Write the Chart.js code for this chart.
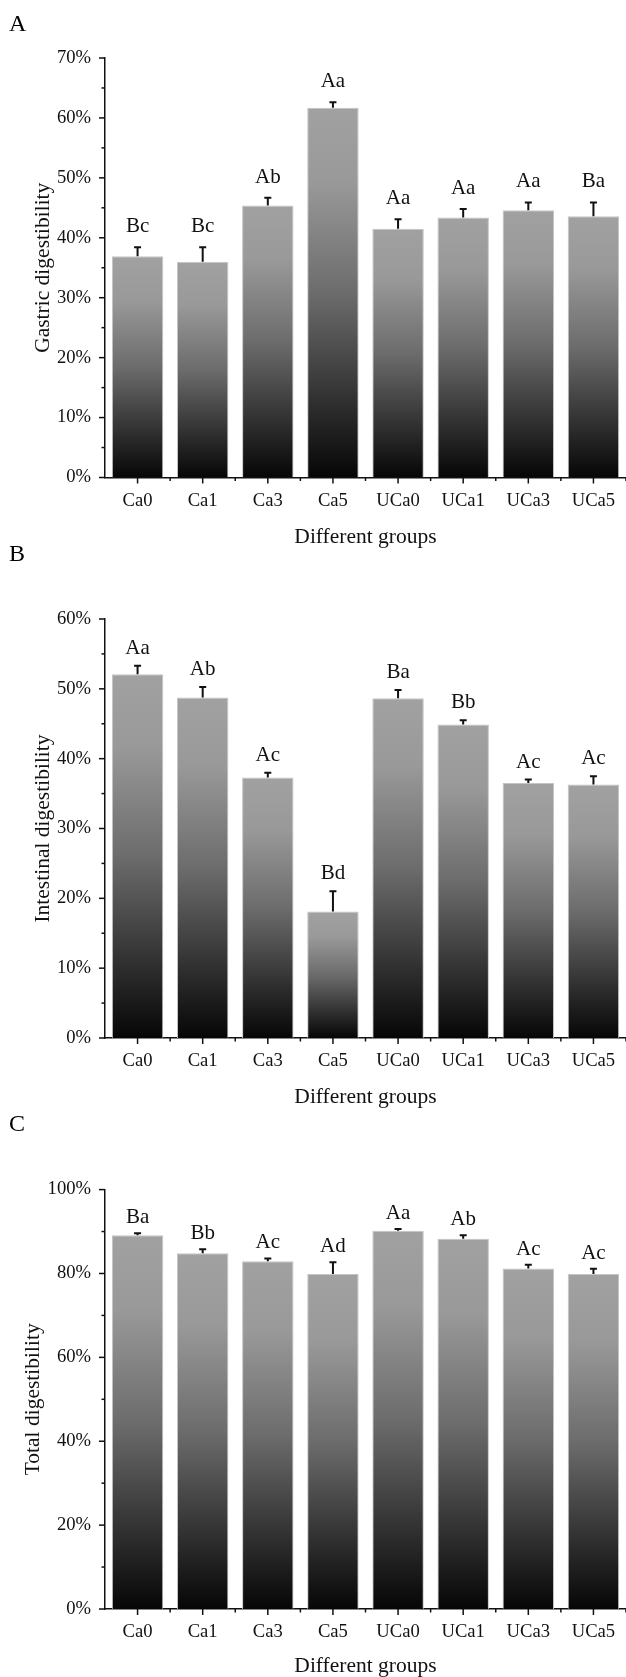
<!DOCTYPE html>
<html>
<head>
<meta charset="utf-8">
<script src="https://cdn.jsdelivr.net/npm/chart.js@4"></script>
<style>
  html, body { margin: 0; padding: 0; background: #fff; overflow: hidden; }
  body { width: 626px; height: 1677px; position: relative; }
  canvas { position: absolute; left: 0; }
</style>
</head>
<body>
<canvas id="cA"></canvas>
<canvas id="cB"></canvas>
<canvas id="cC"></canvas>
<script>
// ---- data ----
const groups = ['Ca0', 'Ca1', 'Ca3', 'Ca5', 'UCa0', 'UCa1', 'UCa3', 'UCa5'];

const gastricValues = [36.9, 36.0, 45.4, 61.7, 41.5, 43.4, 44.6, 43.6];
const gastricErrors = [1.5, 2.4, 1.3, 0.9, 1.6, 1.4, 1.3, 2.3];
const gastricLetters = ['Bc', 'Bc', 'Ab', 'Aa', 'Aa', 'Aa', 'Aa', 'Ba'];

const intestinalValues = [52.1, 48.75, 37.3, 18.1, 48.65, 44.9, 36.5, 36.3];
const intestinalErrors = [1.2, 1.5, 0.7, 2.9, 1.2, 0.6, 0.5, 1.2];
const intestinalLetters = ['Aa', 'Ab', 'Ac', 'Bd', 'Ba', 'Bb', 'Ac', 'Ac'];

const totalValues = [89.1, 84.8, 82.9, 79.9, 90.2, 88.3, 81.2, 79.9];
const totalErrors = [0.5, 1.0, 0.7, 2.8, 0.4, 0.8, 0.9, 1.2];
const totalLetters = ['Ba', 'Bb', 'Ac', 'Ad', 'Aa', 'Ab', 'Ac', 'Ac'];

const FONT = "'Liberation Serif', 'Times New Roman', serif";

function barGradient(ctx) {
  const chart = ctx.chart;
  const y = chart.scales && chart.scales.y;
  if (!chart.chartArea || !y || ctx.raw == null) return '#888';
  const top = y.getPixelForValue(ctx.raw);
  const bot = y.getPixelForValue(0);
  if (!isFinite(top) || !isFinite(bot) || bot - top < 1) return '#888';
  const g = chart.ctx.createLinearGradient(0, top, 0, bot);
  g.addColorStop(0, '#a1a1a1');
  g.addColorStop(0.2, '#999999');
  g.addColorStop(0.5, '#6c6c6c');
  g.addColorStop(0.75, '#393939');
  g.addColorStop(1, '#060606');
  return g;
}

const extrasPlugin = {
  id: 'extras',
  afterDatasetsDraw(chart) {
    const cfg = chart.options.plugins.extras;
    const c = chart.ctx;
    const y = chart.scales.y, x = chart.scales.x;
    const meta = chart.getDatasetMeta(0);
    const vals = chart.data.datasets[0].data;
    c.save();
    // error bars
    c.strokeStyle = '#111';
    c.lineWidth = 2;
    meta.data.forEach((bar, i) => {
      const yv = y.getPixelForValue(vals[i]);
      const ye = y.getPixelForValue(vals[i] + cfg.errors[i]);
      c.beginPath();
      c.moveTo(bar.x, yv);
      c.lineTo(bar.x, ye);
      c.moveTo(bar.x - 3.5, ye);
      c.lineTo(bar.x + 3.5, ye);
      c.stroke();
    });
    // letters
    c.fillStyle = '#111';
    c.font = '21px ' + FONT;
    c.textAlign = 'center';
    c.textBaseline = 'alphabetic';
    meta.data.forEach((bar, i) => {
      const ye = y.getPixelForValue(vals[i] + cfg.errors[i]);
      c.fillText(cfg.letters[i], bar.x, ye - cfg.letterGap);
    });
    // y ticks (major + minor)
    c.lineWidth = 1.5;
    const left = chart.chartArea.left;
    const tks = y.ticks.map(t => t.value);
    tks.forEach((v, k) => {
      const p = y.getPixelForValue(v);
      c.beginPath(); c.moveTo(left - 6, p); c.lineTo(left, p); c.stroke();
      if (k < tks.length - 1) {
        const pm = y.getPixelForValue((v + tks[k + 1]) / 2);
        c.beginPath(); c.moveTo(left - 3.5, pm); c.lineTo(left, pm); c.stroke();
      }
    });
    // x ticks: centers (major) and boundaries (minor)
    const bottom = chart.chartArea.bottom;
    const n = groups.length;
    for (let i = 0; i < n; i++) {
      const p = x.getPixelForValue(i);
      c.beginPath(); c.moveTo(p, bottom); c.lineTo(p, bottom + 6); c.stroke();
    }
    for (let i = 1; i <= n; i++) {
      let p;
      if (i === n) p = x.getPixelForValue(n - 1) + (x.getPixelForValue(n - 1) - x.getPixelForValue(n - 2)) / 2;
      else p = (x.getPixelForValue(i - 1) + x.getPixelForValue(i)) / 2;
      c.beginPath(); c.moveTo(p, bottom); c.lineTo(p, bottom + 3.5); c.stroke();
    }
    // panel letter
    c.font = '24px ' + FONT;
    c.textAlign = 'left';
    c.textBaseline = 'alphabetic';
    c.fillStyle = '#000';
    c.fillText(cfg.panel, 9, cfg.panelBaseline);
    c.restore();
  }
};

function makeChart(id, o) {
  const canvas = document.getElementById(id);
  canvas.width = 626;
  canvas.height = o.canvasHeight;
  canvas.style.top = o.canvasTop + 'px';
  const plotTop = o.plotTop - o.canvasTop;
  const plotBottom = o.plotBottom - o.canvasTop;
  return new Chart(canvas, {
    type: 'bar',
    data: {
      labels: groups,
      datasets: [{
        data: o.values,
        backgroundColor: barGradient,
        borderColor: '#c4c4c4',
        borderWidth: 1,
        barPercentage: 0.79,
        categoryPercentage: 1.0
      }]
    },
    plugins: [extrasPlugin],
    options: {
      responsive: false,
      animation: false,
      devicePixelRatio: 1,
      events: [],
      layout: { padding: { top: plotTop, left: 0, right: 0, bottom: 0 } },
      plugins: {
        legend: { display: false },
        tooltip: { enabled: false },
        extras: {
          errors: o.errors, letters: o.letters, letterGap: o.letterGap,
          panel: o.panel, panelBaseline: o.panelBaseline
        }
      },
      scales: {
        x: {
          offset: true,
          grid: { display: false, drawTicks: false },
          border: { display: true, color: '#111', width: 1.5 },
          ticks: { color: '#111', font: { family: FONT, size: 18.6 }, padding: 12, maxRotation: 0, autoSkip: false },
          title: {
            display: true, text: 'Different groups', color: '#111',
            font: { family: FONT, size: 21.5 }, padding: { top: 0, bottom: o.xTitlePad }
          },
          afterFit(s) {
            s.height = o.canvasHeight - plotBottom;
            s.paddingLeft = 0; s.paddingRight = 0;
          }
        },
        y: {
          min: 0, max: o.max,
          grid: { display: false, drawTicks: false },
          border: { display: true, color: '#111', width: 1.5 },
          ticks: {
            stepSize: o.step, color: '#111', padding: 14,
            font: { family: FONT, size: 18.6 },
            callback: v => v + '%'
          },
          title: {
            display: true, text: o.yTitle, color: '#111',
            font: { family: FONT, size: 21.5 }, padding: { top: o.yTitlePad, bottom: 0 }
          },
          afterFit(s) {
            s.width = 105;
            s.paddingTop = 0; s.paddingBottom = 0;
          }
        }
      }
    }
  });
}

makeChart('cA', {
  canvasTop: 0, canvasHeight: 558, plotTop: 58, plotBottom: 477.5,
  values: gastricValues, errors: gastricErrors, letters: gastricLetters,
  max: 70, step: 10, yTitle: 'Gastric digestibility', yTitlePad: 30,
  xTitlePad: 8, letterGap: 15, panel: 'A', panelBaseline: 31
});
makeChart('cB', {
  canvasTop: 540, canvasHeight: 578, plotTop: 619, plotBottom: 1038,
  values: intestinalValues, errors: intestinalErrors, letters: intestinalLetters,
  max: 60, step: 10, yTitle: 'Intestinal digestibility', yTitlePad: 30,
  xTitlePad: 8, letterGap: 12, panel: 'B', panelBaseline: 21
});
makeChart('cC', {
  canvasTop: 1090, canvasHeight: 590, plotTop: 1189.6, plotBottom: 1609,
  values: totalValues, errors: totalErrors, letters: totalLetters,
  max: 100, step: 20, yTitle: 'Total digestibility', yTitlePad: 20,
  xTitlePad: 1, letterGap: 10, panel: 'C', panelBaseline: 41
});
</script>
</body>
</html>
